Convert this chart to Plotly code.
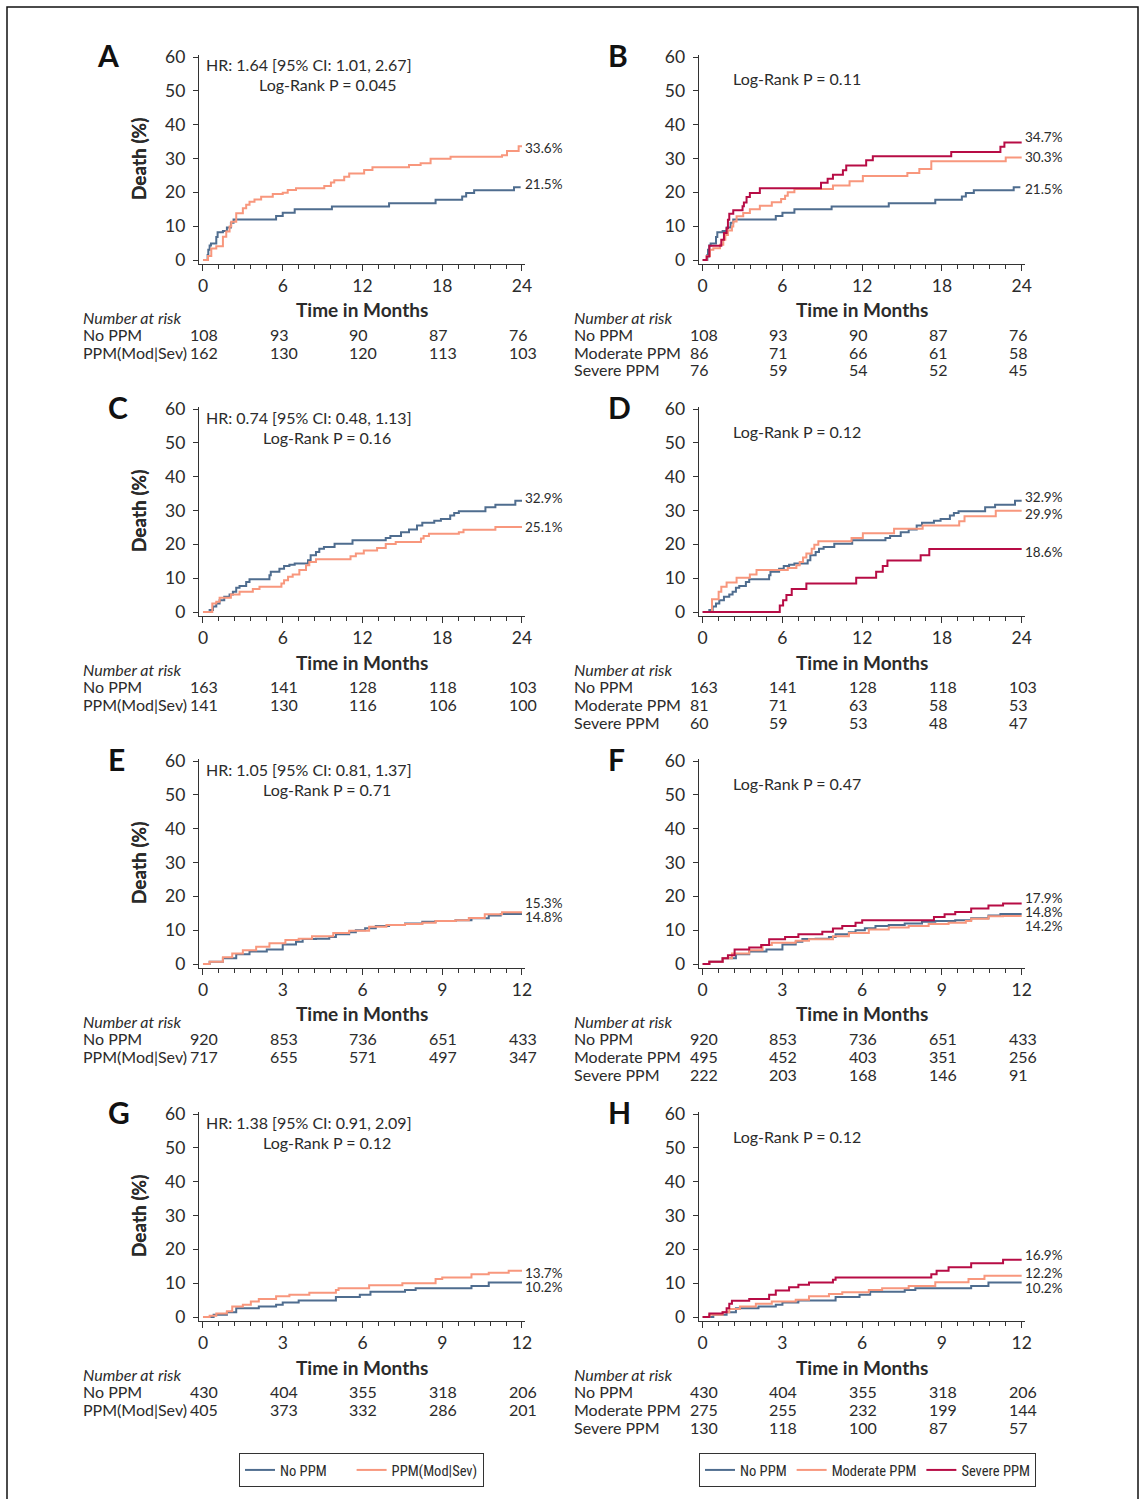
import plotly.graph_objects as go

# ---------------- data ----------------
ticks_24 = [0, 6, 12, 18, 24]
ticks_12 = [0, 3, 6, 9, 12]
ytick_vals = [0, 10, 20, 30, 40, 50, 60]

# Cohort 1 (panels A, B) : (month, death %)
c1_no = [(0, 0), (0.35, 1.5), (0.4, 3.0), (0.5, 4.3), (0.6, 4.9), (1.0, 6.8), (1.1, 8.2), (1.5, 8.6),
         (1.8, 9.6), (2.1, 11.0), (2.3, 12.0), (5.5, 13.0), (6.0, 14.0), (6.9, 15.0), (9.7, 15.8),
         (14.0, 16.8), (17.5, 17.8), (19.5, 18.8), (19.8, 19.8), (20.4, 20.6), (23.4, 21.5), (23.9, 21.5)]
c1_modsev = [(0, 0), (0.375, 1.2), (0.625, 3.4), (1.0, 4.1), (1.5, 6.9), (1.75, 8.4), (2.0, 9.9), (2.125, 11.3),
             (2.5, 13.8), (3.0, 15.3), (3.25, 16.3), (3.5, 17.2), (3.875, 17.9), (4.375, 18.7), (5.25, 19.5),
             (6.0, 19.9), (6.375, 20.7), (7.0, 21.2), (9.125, 21.9), (9.625, 22.9), (9.875, 23.6), (10.625, 24.6),
             (11.0, 25.6), (12.125, 26.6), (12.75, 27.4), (15.5, 28.1), (16.375, 28.6), (17.125, 29.9),
             (18.625, 30.5), (22.5, 31.0), (22.875, 32.2), (23.75, 33.6), (24.0, 33.6)]
c1_mod = [(0, 0), (0.3, 1.2), (0.55, 3.0), (0.8, 3.5), (1.3, 4.5), (1.55, 6.0), (1.7, 7.4), (1.9, 8.7), (2.2, 9.9),
          (2.3, 11.4), (2.55, 12.9), (3.05, 13.9), (3.55, 15.0), (4.3, 16.0), (5.2, 17.1), (5.9, 18.0), (6.2, 19.0),
          (6.4, 20.0), (6.9, 21.0), (9.8, 22.0), (11.05, 23.3), (12.05, 24.8), (15.4, 25.7), (16.3, 26.9),
          (17.2, 29.2), (22.8, 30.3), (24.0, 30.3)]
c1_sev = [(0, 0), (0.3, 1.0), (0.5, 4.2), (1.4, 6.0), (1.6, 8.0), (1.8, 9.4), (1.9, 11.9), (2.0, 13.7), (2.3, 14.7),
          (3.0, 15.9), (3.1, 17.0), (3.3, 18.6), (3.55, 19.8), (4.3, 21.2), (8.9, 22.8), (9.4, 24.0), (9.8, 25.2),
          (10.55, 26.5), (10.8, 27.9), (12.3, 29.5), (12.8, 30.7), (18.7, 31.9), (22.4, 33.5), (22.7, 34.7),
          (24.0, 34.7)]

# Cohort 2 (panels C, D)
c2_no = [(0, 0), (0.5, 0.6), (0.75, 1.6), (1.0, 2.5), (1.25, 3.5), (1.6, 4.5), (2.0, 5.2), (2.25, 6.0), (2.5, 7.2),
         (2.75, 7.7), (3.25, 8.9), (3.5, 9.7), (5.0, 10.9), (5.1, 11.9), (5.75, 12.8), (6.1, 13.6), (6.5, 14.0),
         (6.9, 14.3), (7.9, 15.3), (8.1, 16.8), (8.5, 17.7), (8.75, 18.7), (9.1, 19.2), (9.9, 20.2), (11.25, 21.2),
         (13.75, 21.9), (14.1, 22.5), (14.9, 23.6), (15.5, 24.4), (16.1, 25.6), (16.5, 26.4), (17.4, 27.0),
         (17.9, 27.5), (18.6, 28.5), (18.9, 29.3), (19.25, 29.8), (21.25, 31.0), (22.0, 31.7), (23.5, 32.9),
         (24.0, 32.9)]
c2_modsev = [(0, 0), (0.7, 2.5), (1.0, 3.0), (1.25, 4.2), (2.1, 5.2), (2.75, 6.0), (3.75, 6.8), (4.25, 7.5),
             (5.9, 8.4), (6.1, 9.4), (6.4, 10.4), (6.75, 11.1), (7.25, 12.4), (7.75, 13.8), (8.0, 14.8), (8.5, 15.6),
             (11.1, 16.5), (11.5, 17.3), (12.1, 18.2), (13.1, 18.9), (13.75, 20.1), (14.5, 20.7), (16.4, 21.7),
             (16.6, 22.5), (17.0, 23.1), (19.25, 23.6), (19.6, 24.3), (22.0, 25.1), (24.0, 25.1)]
c2_mod = [(0, 0), (0.7, 3.8), (1.2, 6.0), (1.4, 7.5), (1.8, 8.7), (2.55, 10.1), (3.55, 11.1), (4.05, 12.4),
          (6.4, 13.0), (7.05, 13.8), (7.3, 14.8), (7.55, 16.1), (7.8, 17.3), (8.2, 18.7), (8.4, 19.9), (8.7, 20.9),
          (11.2, 21.9), (12.05, 23.3), (14.4, 24.6), (16.55, 25.6), (19.3, 26.8), (19.7, 28.3), (22.05, 29.9),
          (24.0, 29.9)]
c2_sev = [(0, 0), (5.8, 1.9), (6.05, 3.5), (6.3, 5.0), (6.7, 6.8), (7.8, 8.4), (11.55, 10.1), (13.05, 11.9),
          (13.55, 13.6), (13.9, 15.2), (16.4, 16.8), (17.05, 18.6), (24.0, 18.6)]

# Cohort 3 (panels E, F)
c3_no = [(0, 0), (0.25, 0.7), (0.75, 1.7), (1.25, 2.9), (1.75, 3.7), (2.4, 4.3), (3.0, 5.8), (3.5, 6.6),
         (3.75, 7.4), (4.25, 7.5), (4.75, 8.0), (5.0, 8.8), (5.5, 9.4), (5.75, 10.0), (6.1, 10.6), (6.5, 11.2),
         (7.0, 11.5), (7.6, 12.0), (8.25, 12.5), (8.75, 12.7), (9.5, 12.9), (10.1, 13.5), (10.75, 14.3),
         (11.2, 14.8), (12.0, 14.8)]
c3_modsev = [(0, 0), (0.25, 0.7), (0.75, 2.0), (1.1, 3.1), (1.5, 4.1), (2.0, 5.1), (2.5, 6.1), (3.1, 7.1),
             (3.6, 7.5), (4.1, 8.2), (4.9, 9.2), (5.5, 9.8), (6.25, 11.0), (6.9, 11.5), (7.6, 11.8), (8.25, 12.2),
             (8.75, 12.7), (9.5, 12.9), (10.0, 13.6), (10.6, 14.7), (11.25, 15.3), (12.0, 15.3)]
c3_mod = [(0, 0), (0.25, 0.7), (0.75, 1.7), (1.1, 3.1), (1.75, 4.1), (2.25, 5.6), (2.6, 6.3), (3.5, 6.9),
          (4.0, 7.3), (4.9, 8.2), (5.5, 9.2), (6.25, 10.2), (7.0, 10.8), (7.75, 11.2), (8.5, 11.8), (9.25, 12.2),
          (9.9, 12.7), (10.1, 13.4), (10.75, 14.1), (11.3, 14.2), (12.0, 14.2)]
c3_sev = [(0, 0), (0.25, 0.7), (0.75, 1.7), (0.95, 2.6), (1.2, 4.3), (1.75, 4.9), (2.2, 5.6), (2.5, 7.3),
          (3.1, 8.0), (3.6, 8.8), (4.5, 9.5), (4.9, 10.5), (5.25, 11.2), (5.75, 12.2), (6.0, 12.9), (8.7, 13.9),
          (9.1, 14.7), (9.5, 15.4), (10.1, 16.4), (10.75, 17.3), (11.3, 17.9), (12.0, 17.9)]

# Cohort 4 (panels G, H)
c4_no = [(0, 0), (0.4, 0.7), (0.9, 1.4), (1.25, 2.6), (2.1, 3.1), (2.75, 3.6), (3.0, 4.3), (3.6, 4.9),
         (5.0, 5.9), (5.9, 6.6), (6.3, 7.5), (7.6, 8.0), (8.0, 8.5), (10.1, 9.2), (10.75, 10.2), (12.0, 10.2)]
c4_modsev = [(0, 0), (0.25, 0.4), (0.5, 1.0), (0.9, 1.7), (1.1, 3.1), (1.5, 3.6), (1.8, 4.6), (2.1, 5.3),
             (2.75, 6.1), (3.25, 6.6), (4.0, 7.2), (5.0, 8.0), (5.1, 8.5), (6.25, 9.4), (7.5, 10.0), (8.75, 11.2),
             (9.0, 11.7), (10.1, 12.6), (10.75, 13.1), (11.5, 13.7), (12.0, 13.7)]
c4_mod = [(0, 0), (0.25, 0.7), (0.75, 1.4), (1.0, 2.4), (1.4, 3.1), (2.0, 3.9), (2.6, 4.6), (3.5, 5.1),
          (4.0, 6.1), (4.75, 6.8), (5.25, 7.3), (6.25, 8.0), (6.75, 8.5), (7.75, 9.2), (8.75, 10.3), (10.0, 11.2),
          (10.6, 12.2), (12.0, 12.2)]
c4_sev = [(0, 0), (0.25, 1.0), (0.75, 1.4), (0.9, 2.6), (1.0, 3.9), (1.1, 4.8), (1.75, 5.3), (2.5, 6.6),
          (2.75, 7.8), (3.25, 8.8), (3.6, 9.5), (4.0, 10.2), (4.9, 11.0), (5.0, 11.7), (8.6, 12.6), (8.8, 13.7),
          (9.25, 14.7), (10.1, 15.9), (11.3, 16.9), (12.0, 16.9)]

# Number at risk
risk_A = {"No PPM": [108, 93, 90, 87, 76], "PPM(Mod|Sev)": [162, 130, 120, 113, 103]}
risk_B = {"No PPM": [108, 93, 90, 87, 76], "Moderate PPM": [86, 71, 66, 61, 58], "Severe PPM": [76, 59, 54, 52, 45]}
risk_C = {"No PPM": [163, 141, 128, 118, 103], "PPM(Mod|Sev)": [141, 130, 116, 106, 100]}
risk_D = {"No PPM": [163, 141, 128, 118, 103], "Moderate PPM": [81, 71, 63, 58, 53], "Severe PPM": [60, 59, 53, 48, 47]}
risk_E = {"No PPM": [920, 853, 736, 651, 433], "PPM(Mod|Sev)": [717, 655, 571, 497, 347]}
risk_F = {"No PPM": [920, 853, 736, 651, 433], "Moderate PPM": [495, 452, 403, 351, 256], "Severe PPM": [222, 203, 168, 146, 91]}
risk_G = {"No PPM": [430, 404, 355, 318, 206], "PPM(Mod|Sev)": [405, 373, 332, 286, 201]}
risk_H = {"No PPM": [430, 404, 355, 318, 206], "Moderate PPM": [275, 255, 232, 199, 144], "Severe PPM": [130, 118, 100, 87, 57]}

hr_texts = {"A": "HR: 1.64 [95% CI: 1.01, 2.67]", "C": "HR: 0.74 [95% CI: 0.48, 1.13]",
            "E": "HR: 1.05 [95% CI: 0.81, 1.37]", "G": "HR: 1.38 [95% CI: 0.91, 2.09]"}
p_texts = {"A": "Log-Rank P = 0.045", "B": "Log-Rank P = 0.11", "C": "Log-Rank P = 0.16", "D": "Log-Rank P = 0.12",
           "E": "Log-Rank P = 0.71", "F": "Log-Rank P = 0.47", "G": "Log-Rank P = 0.12", "H": "Log-Rank P = 0.12"}

# ---------------- style / layout ----------------
W, H = 1143, 1499
BLUE, SALMON, CRIMSON = "#4f6d8f", "#f8977d", "#b70c45"
TXT = "#2b2b2b"
FONT = "Lato, 'Open Sans', sans-serif"
NARROW = "'Liberation Sans Narrow', 'Roboto Condensed', Roboto, sans-serif"
colors = {"No PPM": BLUE, "PPM(Mod|Sev)": SALMON, "Moderate PPM": SALMON, "Severe PPM": CRIMSON}

def pxx(px):
    return px / W

def pyy(py):
    return 1 - py / H

row_y0 = [260, 612, 964, 1317]      # pixel of y=0 for each row
col_x0 = [199, 698.7]               # pixel of axis line (left)
PLOT_W = 326.3
YS = 3.383                           # px per % unit

panels = [
    ("A", 0, 0, 24, {"No PPM": c1_no, "PPM(Mod|Sev)": c1_modsev}, risk_A, [22.5, 33.1], (95, 55)),
    ("B", 0, 1, 24, {"No PPM": c1_no, "Moderate PPM": c1_mod, "Severe PPM": c1_sev}, risk_B, [21.0, 30.4, 36.4], (606, 55)),
    ("C", 1, 0, 24, {"No PPM": c2_no, "PPM(Mod|Sev)": c2_modsev}, risk_C, [33.7, 25.1], (106, 407)),
    ("D", 1, 1, 24, {"No PPM": c2_no, "Moderate PPM": c2_mod, "Severe PPM": c2_sev}, risk_D, [34.0, 29.0, 17.7], (606, 407)),
    ("E", 2, 0, 12, {"No PPM": c3_no, "PPM(Mod|Sev)": c3_modsev}, risk_E, [13.8, 17.9], (106, 759)),
    ("F", 2, 1, 12, {"No PPM": c3_no, "Moderate PPM": c3_mod, "Severe PPM": c3_sev}, risk_F, [15.4, 11.2, 19.5], (606, 759)),
    ("G", 3, 0, 12, {"No PPM": c4_no, "PPM(Mod|Sev)": c4_modsev}, risk_G, [8.9, 13.0], (106, 1112)),
    ("H", 3, 1, 12, {"No PPM": c4_no, "Moderate PPM": c4_mod, "Severe PPM": c4_sev}, risk_H, [8.6, 13.0, 18.3], (606, 1112)),
]

fig = go.Figure()
annotations = []
layout_axes = {}

for i, (letter, r, c, horizon, series, risk, label_y, letter_pos) in enumerate(panels):
    n = i + 1
    xa = "x" if n == 1 else f"x{n}"
    ya = "y" if n == 1 else f"y{n}"
    y0 = row_y0[r]
    x0 = col_x0[c]
    ticks = ticks_24 if horizon == 24 else ticks_12
    k = horizon / 24.0
    xr = [-0.3 * k, 24.25 * k]
    layout_axes[f"xaxis{'' if n == 1 else n}"] = dict(
        domain=[pxx(x0), pxx(x0 + PLOT_W)], range=xr, anchor=ya, automargin=False,
        showline=True, linecolor="#333", linewidth=1.3, showgrid=False, zeroline=False,
        tickmode="array", tickvals=ticks, ticks="outside", ticklen=6, tickwidth=1, tickcolor="#333",
        minor=dict(ticks="outside", tick0=0, dtick=1.2 * k, ticklen=4, tickwidth=1, tickcolor="#333"),
        tickfont=dict(family=FONT, size=17.5, color=TXT), fixedrange=True)
    layout_axes[f"yaxis{'' if n == 1 else n}"] = dict(
        domain=[pyy(y0 + 1.2 * YS), pyy(y0 - 60.6 * YS)], range=[-1.2, 60.6], anchor=xa, automargin=False,
        showline=True, linecolor="#333", linewidth=1.3, showgrid=False, zeroline=False,
        tickmode="array", tickvals=ytick_vals, ticks="outside", ticklen=5, tickwidth=1, tickcolor="#333",
        ticklabelstandoff=4,
        tickfont=dict(family=FONT, size=17.5, color=TXT), fixedrange=True)

    # curves
    for j, (name, pts) in enumerate(series.items()):
        t = [p[0] for p in pts]
        v = [p[1] for p in pts]
        leg = "legend" if letter == "A" else ("legend2" if letter == "B" else None)
        disp = name
        if letter == "A" and name == "No PPM":
            disp = name + "\u00a0" * 6
        tr = dict(x=t, y=v, mode="lines", line=dict(color=colors[name], width=2, shape="hv"),
                  name=disp, xaxis=xa, yaxis=ya, hoverinfo="skip",
                  showlegend=leg is not None)
        if leg:
            tr["legend"] = leg
        fig.add_trace(go.Scatter(**tr))
        # end label
        annotations.append(dict(x=horizon, y=label_y[j], xref=xa, yref=ya, text=f"{v[-1]:.1f}%",
                                showarrow=False, xanchor="left", yanchor="middle", xshift=1,
                                font=dict(family=FONT, size=13.5, color=TXT)))

    # panel letter
    annotations.append(dict(x=pxx(letter_pos[0]), y=pyy(letter_pos[1]), xref="paper", yref="paper",
                            text=f"<b>{letter}</b>", showarrow=False, xanchor="left", yanchor="middle",
                            font=dict(family=FONT, size=30, color="#111")))
    # axis titles
    annotations.append(dict(x=pxx(138), y=pyy(y0 - 101), xref="paper", yref="paper", text="<b>Death (%)</b>",
                            textangle=-90, showarrow=False, xanchor="center", yanchor="middle",
                            font=dict(family=FONT, size=19, color=TXT)))
    annotations.append(dict(x=horizon / 2, y=pyy(y0 + 50), xref=xa, yref="paper", text="<b>Time in Months</b>",
                            showarrow=False, xanchor="center", yanchor="middle",
                            font=dict(family=FONT, size=19, color=TXT)))
    # stats text
    if letter in hr_texts:
        annotations.append(dict(x=pxx(x0 + 5), y=pyy(y0 - 195), xref="paper", yref="paper", text=hr_texts[letter],
                                showarrow=False, xanchor="left", yanchor="middle",
                                font=dict(family=FONT, size=16, color=TXT)))
        annotations.append(dict(x=pxx(x0 + 128), y=pyy(y0 - 175), xref="paper", yref="paper", text=p_texts[letter],
                                showarrow=False, xanchor="center", yanchor="middle",
                                font=dict(family=FONT, size=16, color=TXT)))
    else:
        annotations.append(dict(x=pxx(x0 + 32), y=pyy(y0 - 181), xref="paper", yref="paper", text=p_texts[letter],
                                showarrow=False, xanchor="left", yanchor="middle",
                                font=dict(family=FONT, size=16, color=TXT)))
    # number at risk table
    lab_x = 81 if c == 0 else 572
    annotations.append(dict(x=pxx(lab_x), y=pyy(y0 + 57), xref="paper", yref="paper", text="<i>Number at risk</i>",
                            showarrow=False, xanchor="left", yanchor="middle",
                            font=dict(family=FONT, size=16, color=TXT)))
    for rr, (rname, vals) in enumerate(risk.items()):
        yy = pyy(y0 + 74 + 18 * rr)
        annotations.append(dict(x=pxx(lab_x), y=yy, xref="paper", yref="paper", text=rname,
                                showarrow=False, xanchor="left", yanchor="middle",
                                font=dict(family=FONT, size=16, color=TXT)))
        for tv, nv in zip(ticks, vals):
            annotations.append(dict(x=tv, y=yy, xref=xa, yref="paper", text=str(nv), xshift=-15,
                                    showarrow=False, xanchor="left", yanchor="middle",
                                    font=dict(family=FONT, size=16, color=TXT)))

shapes = [dict(type="rect", xref="paper", yref="paper", x0=pxx(7), x1=pxx(1138), y0=pyy(1510), y1=pyy(7),
               line=dict(color="#111", width=1.5), fillcolor="rgba(0,0,0,0)", layer="below")]

fig.update_layout(
    width=W, height=H, margin=dict(l=0, r=0, t=0, b=0, pad=0, autoexpand=False),
    paper_bgcolor="white", plot_bgcolor="white",
    annotations=annotations, shapes=shapes,
    legend=dict(orientation="h", x=pxx(239), y=pyy(1453), xanchor="left", yanchor="top",
                bordercolor="#333", borderwidth=1, bgcolor="white",
                font=dict(family=NARROW, size=14.5, color=TXT), itemwidth=30, tracegroupgap=0),
    legend2=dict(orientation="h", x=pxx(699), y=pyy(1453), xanchor="left", yanchor="top",
                 bordercolor="#333", borderwidth=1, bgcolor="white",
                 font=dict(family=NARROW, size=14.5, color=TXT), itemwidth=30, tracegroupgap=0),
    **layout_axes,
)

post = ("document.body.style.margin='0';document.body.style.padding='0';"
        "document.body.style.overflow='hidden';"
        "var d=document.getElementById('{plot_id}');d.style.position='absolute';"
        "d.style.left='0px';d.style.top='0px';")
fig.write_html("out.html", post_script=post, config={"displayModeBar": False})
